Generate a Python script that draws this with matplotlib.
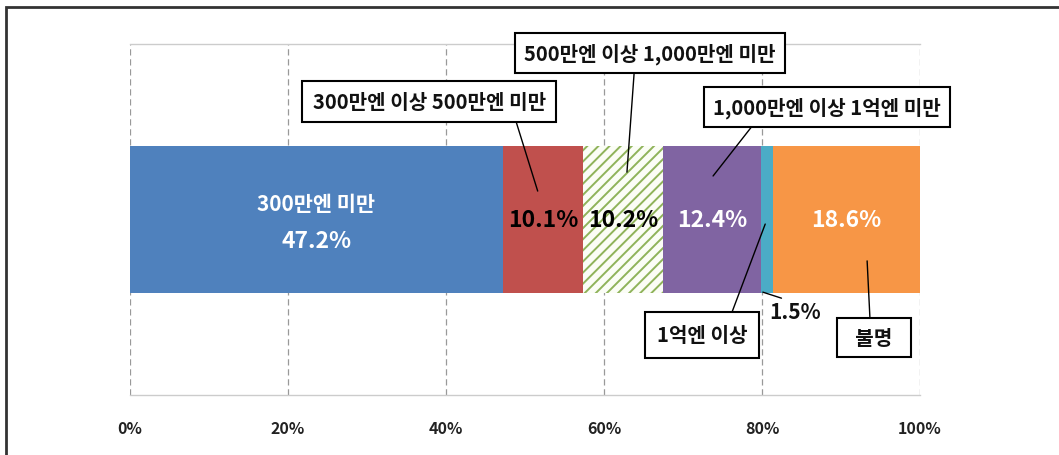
import matplotlib
matplotlib.use('Agg')
import matplotlib.pyplot as plt
from matplotlib.patches import Rectangle

plt.rcParams['font.family'] = ['Noto Sans CJK KR', 'DejaVu Sans']
plt.rcParams['hatch.linewidth'] = 1.4

# Data
categories = ['300만엔 미만', '300만엔 이상 500만엔 미만', '500만엔 이상 1,000만엔 미만',
              '1,000만엔 이상 1억엔 미만', '1억엔 이상', '불명']
values = [47.2, 10.1, 10.2, 12.4, 1.5, 18.6]
colors = ['#4f81bd', '#c0504d', '#fbfdf6', '#8064a2', '#4bacc6', '#f79646']
hatches = [None, None, '///', None, None, None]
label_colors = ['white', 'black', 'black', 'white', None, 'white']
tick_values = [0, 20, 40, 60, 80, 100]
tick_labels = ['0%', '20%', '40%', '60%', '80%', '100%']

fig = plt.figure(figsize=(10.59, 4.56), dpi=100)
ax = fig.add_axes([0.1228, 0.1316, 0.7460, 0.7697])

# outer frame (only top/left visible in the original crop)
fig.patches.append(Rectangle((0.0057, -0.2), 1.5, 0.9825 + 0.2, transform=fig.transFigure,
                             fill=False, edgecolor='#333333', linewidth=2))

left = 0
lefts = []
for v, c, h in zip(values, colors, hatches):
    ax.barh(0, v, left=left, height=0.42, facecolor=c,
            edgecolor='#8fb35a' if h else c, hatch=h, linewidth=0, zorder=3)
    lefts.append(left)
    left += v
centers = [l + v / 2 for l, v in zip(lefts, values)]

# labels inside the bar
ax.text(centers[0], 0.045, categories[0], ha='center', va='center', color='white',
        fontsize=15, fontweight='bold', zorder=5)
ax.text(centers[0], -0.06, f'{values[0]}%', ha='center', va='center', color='white',
        fontsize=16.5, fontweight='bold', zorder=5)
for i in [1, 2, 3, 5]:
    ax.text(centers[i], 0.0, f'{values[i]}%', ha='center', va='center',
            color=label_colors[i], fontsize=16.5, fontweight='bold', zorder=5)

# callouts: (category index, text pos, arrow tip, relpos, pad)
callouts = [
    (1, (37.85, 0.337), (51.6, 0.081), (0.86, 0.0), 0.5, ''),
    (2, (65.8, 0.474), (62.9, 0.135), (0.44, 0.0), 0.45, ''),
    (3, (88.2, 0.320), (73.8, 0.124), (0.20, 0.0), 0.45, ''),
    (4, (72.4, -0.329), (80.4, -0.013), (0.78, 1.0), 0.6, ''),
    (5, (94.2, -0.335), (93.3, -0.118), (0.43, 1.0), 0.45, '  '),
]
for i, xytext, xy, rel, pad, sp in callouts:
    ax.annotate(sp + categories[i] + sp, xy=xy, xytext=xytext, ha='center', va='center',
                fontsize=14.5, fontweight='bold', color='#111111', annotation_clip=False,
                bbox=dict(boxstyle=f'square,pad={pad}', fc='white', ec='black', lw=1.5),
                arrowprops=dict(arrowstyle='-', color='black', lw=1, relpos=rel,
                                shrinkA=0, shrinkB=0), zorder=6)

# 1.5% label outside the bar
ax.annotate(f'{values[4]}%', xy=(80.1, -0.207), xytext=(84.2, -0.262), ha='center', va='center',
            fontsize=15, fontweight='bold', color='#111111', annotation_clip=False,
            arrowprops=dict(arrowstyle='-', color='black', lw=1, relpos=(0.4, 1.0),
                            shrinkA=0, shrinkB=0), zorder=6)

ax.set_xlim(0, 100)
ax.set_ylim(-0.5, 0.5)
ax.set_xticks(tick_values)
ax.set_xticklabels(tick_labels, fontsize=11.5, fontweight='bold', color='#222222')
ax.set_yticks([])
ax.tick_params(axis='x', length=0, pad=18)
for x in tick_values:
    ax.axvline(x, color='#999999', linestyle=(0, (5, 3)), linewidth=0.9, zorder=1)
for s in ['left', 'right']:
    ax.spines[s].set_visible(False)
for s in ['top', 'bottom']:
    ax.spines[s].set_color('#cccccc')
    ax.spines[s].set_linewidth(1)

fig.savefig('out.png', dpi=100)
